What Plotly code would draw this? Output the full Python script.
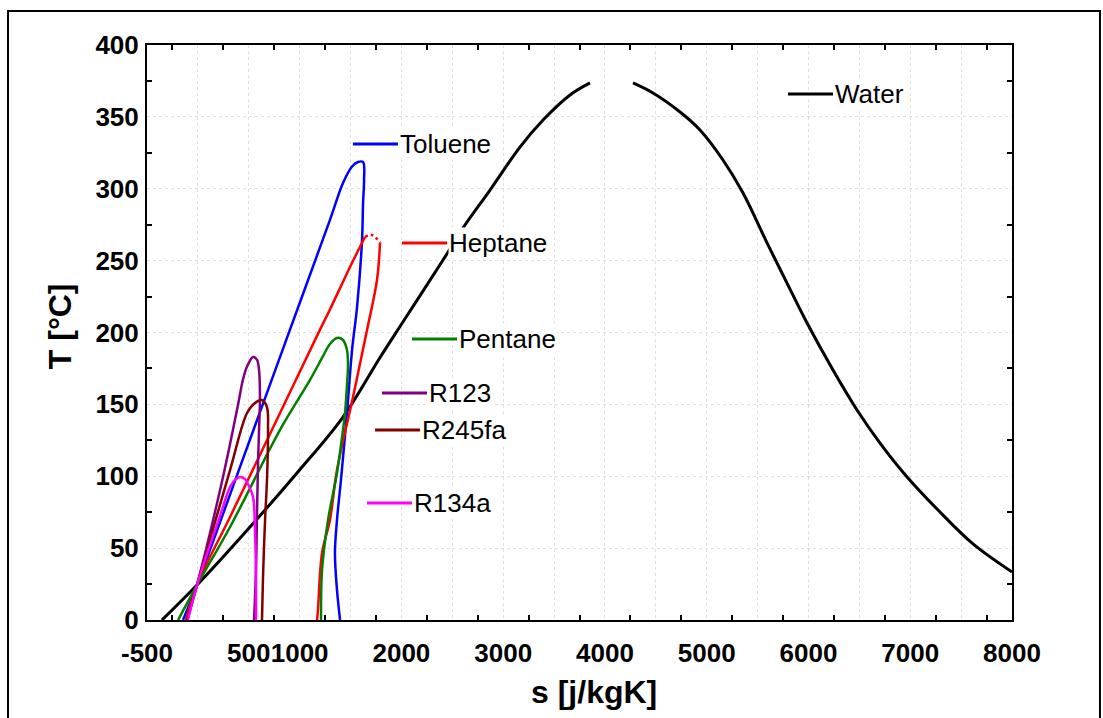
import plotly.graph_objects as go

# ---------------- data (s in J/kgK, T in °C) ----------------
water_s = [-353, -9, 512, 974, 1426, 1790, 1986, 2409, 2605, 2871, 3165, 3392, 3657, 3853,
           None, 4276, 4472, 4738, 4934, 5160, 5357, 5593, 5789, 5986, 6241, 6477, 6703, 6969, 7273, 7617, 8000]
water_T = [0, 24.3, 64.7, 102.3, 141.2, 182.6, 204.2, 250.4, 272.7, 299.1, 329, 347.8, 365.2, 373.6,
           None, 373.6, 366.6, 353.4, 340.9, 320, 297, 262.3, 234.4, 206.6, 173.9, 146.1, 123.1, 99.5, 76.5, 52.9, 33.4]

toluene_s = [-146, -9, 450, 905, 1298, 1426, 1515, 1573, 1623, 1633, 1623, 1613, 1564, 1515, 1465, 1406, 1367, 1347, 1367, 1397]
toluene_T = [0, 24.3, 113.5, 202, 278.3, 304, 315.5, 318.6, 318.6, 306, 290, 264.3, 217.7, 187.8, 144, 97.4, 69.6, 46.6, 20.9, 0]

heptane_s = [-117, -9, 316, 760, 1200, 1298, 1495, 1642, None, 1790, 1760, 1662, 1524, 1367, 1298, 1220, 1180, 1171]
heptane_T = [0, 24.3, 71.7, 137, 202, 216, 245.6, 266.4, None, 262.6, 236.5, 201.7, 155, 104.3, 69.6, 46.6, 7, 0]
heptane_top_s = [1642, 1711, 1790]
heptane_top_T = [266.4, 267.8, 262.6]

pentane_s = [-195, -9, 316, 807, 1102, 1220, 1298, 1367, 1426, 1465, 1475, 1465, 1446, 1426, 1367, 1279, 1220, 1210]
pentane_T = [0, 24.3, 64.7, 132.2, 167, 182.3, 192, 196.2, 194.8, 187.8, 177.4, 163.5, 144, 132.2, 102.3, 69.6, 34.8, 0]

r123_s = [-107, -9, 247, 394, 443, 483, 542, 581, 601, 610, 601, 591, 581, 571, 552]
r123_T = [0, 24.3, 99.5, 149.6, 167.3, 176.3, 183, 180.9, 173.9, 155, 132.2, 109.2, 74.4, 34.8, 0]

r245fa_s = [-107, -9, 316, 483, 561, 630, 679, 689, 679, 660, 640, 630]
r245fa_T = [0, 24.3, 104.3, 144, 151, 153, 148, 132.2, 97.4, 69.6, 30, 0]

r134a_s = [-97, -9, 217, 316, 365, 414, 463, 502, 542, 561, 571, 571]
r134a_T = [0, 24.3, 72.3, 92.5, 97.5, 99.5, 98, 93, 85.6, 62.6, 30, 0]

x_tickvals = list(range(-500, 8001, 500))
x_labelled = [-500, 500, 1000, 2000, 3000, 4000, 5000, 6000, 7000, 8000]
x_ticktext = [str(v) if v in x_labelled else "" for v in x_tickvals]
x_minor = list(range(-250, 8000, 500))
y_tickvals = list(range(0, 401, 50))
y_minor = list(range(25, 400, 50))

# ---------------- styles ----------------
FONT = "Arial, Liberation Sans, sans-serif"
series = [
    ("Water", water_s, water_T, "#000000", 3),
    ("Toluene", toluene_s, toluene_T, "#0000ff", 2.5),
    ("Heptane", heptane_s, heptane_T, "#ff0000", 2.5),
    ("Pentane", pentane_s, pentane_T, "#008000", 2.5),
    ("R123", r123_s, r123_T, "#800080", 2.5),
    ("R245fa", r245fa_s, r245fa_T, "#800000", 2.5),
    ("R134a", r134a_s, r134a_T, "#ff00ff", 2.5),
]
# label anchors (start of the short legend line), in data coordinates
label_pos = {
    "Water": (5799, 365.9),
    "Toluene": (1524, 331.1),
    "Heptane": (2006, 262.3),
    "Pentane": (2104, 195.5),
    "R123": (1809, 157.9),
    "R245fa": (1741, 132.2),
    "R134a": (1662, 81.4),
}

fig = go.Figure()
for name, s, T, color, w in series:
    fig.add_trace(go.Scatter(x=s, y=T, mode="lines", name=name,
                             line=dict(color=color, width=w, shape="spline", smoothing=1.0),
                             showlegend=False, connectgaps=False))
fig.add_trace(go.Scatter(x=heptane_top_s, y=heptane_top_T, mode="lines", showlegend=False,
                         line=dict(color="#ff0000", width=2.5, dash="dot", shape="spline", smoothing=1.0)))

shapes = []
annotations = []
for name, s, T, color, w in series:
    lx, ly = label_pos[name]
    shapes.append(dict(type="line", xref="x", yref="y", xsizemode="pixel", xanchor=lx,
                       x0=0, x1=45, y0=ly, y1=ly, line=dict(color=color, width=3)))
    annotations.append(dict(x=lx, y=ly, xref="x", yref="y", xanchor="left", yanchor="middle",
                            xshift=46, text=name, showarrow=False, bgcolor="white", borderpad=0,
                            font=dict(family=FONT, size=26, color="black")))

# outer frame
shapes.append(dict(type="rect", xref="paper", yref="paper", x0=-0.1607, x1=1.1017, y0=-0.2087, y1=1.0591,
                   line=dict(color="black", width=2), layer="below"))

annotations.append(dict(x=0.5168, y=-0.1252, xref="paper", yref="paper", text="<b>s [j/kgK]</b>",
                        showarrow=False, xanchor="center", yanchor="middle",
                        font=dict(family=FONT, size=32, color="black")))
annotations.append(dict(x=-0.1006, y=0.511, xref="paper", yref="paper", text="<b>T [°C]</b>",
                        showarrow=False, xanchor="center", yanchor="middle", textangle=-90,
                        font=dict(family=FONT, size=32, color="black")))

axis_common = dict(showline=True, linecolor="black", linewidth=2, mirror="ticks",
                   ticks="", showgrid=True, gridcolor="#e0e0e0", griddash="dot", gridwidth=1,
                   zeroline=False, tickangle=0,
                   tickfont=dict(family=FONT, size=26, color="black", weight="bold"))

fig.update_layout(
    width=1103, height=718, autosize=False,
    margin=dict(l=147, r=91, t=45, b=98),
    paper_bgcolor="white", plot_bgcolor="white",
    xaxis=dict(range=[-500, 8000], tickmode="array", tickvals=x_tickvals, ticktext=x_ticktext,
               ticklabelstandoff=9,
               minor=dict(tickmode="array", tickvals=x_minor, ticks="inside", ticklen=5,
                          tickcolor="black", tickwidth=2, showgrid=False),
               **axis_common),
    yaxis=dict(range=[0, 400], tickmode="array", tickvals=y_tickvals,
               ticktext=[str(v) for v in y_tickvals], ticklabelstandoff=1,
               minor=dict(tickmode="array", tickvals=y_minor, ticks="inside", ticklen=5,
                          tickcolor="black", tickwidth=2, showgrid=False),
               **axis_common),
    shapes=shapes,
    annotations=annotations,
)

fig.write_html("out.html")
